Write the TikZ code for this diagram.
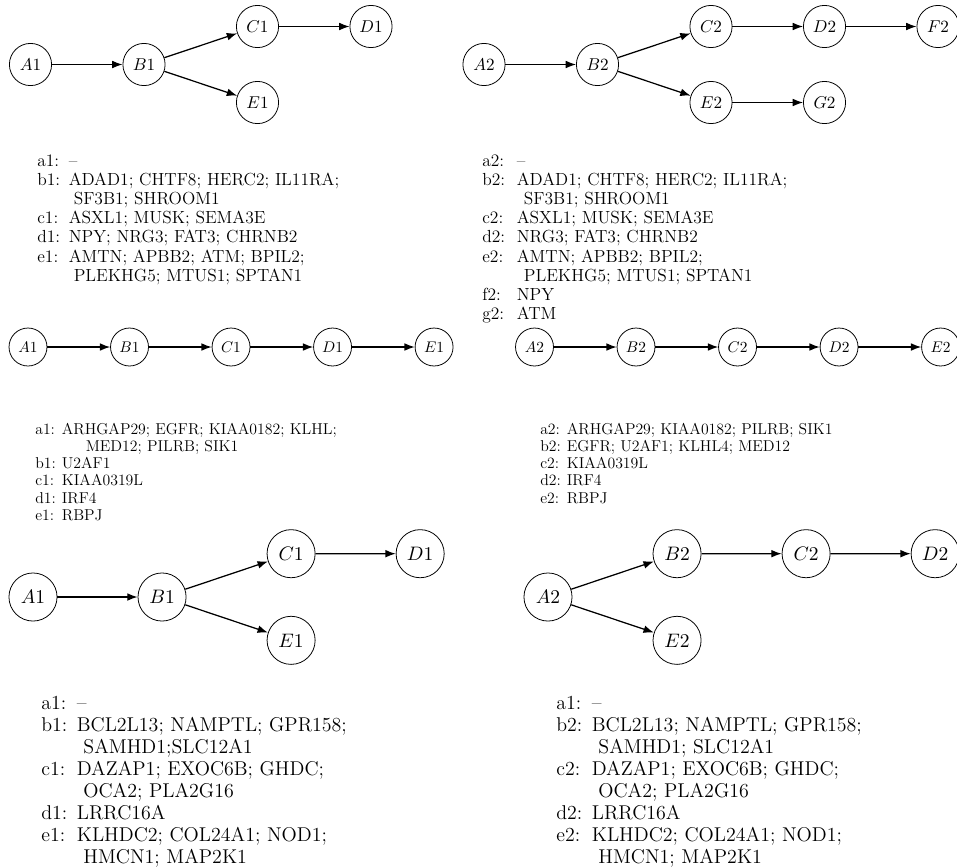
\documentclass[tikz,border=0pt]{standalone}
\usetikzlibrary{arrows.meta,positioning}
\tikzset{
  gene/.style={circle,draw,line width=0.5pt,minimum size=27pt,inner sep=0pt,font=\fontsize{11}{13}\selectfont},
  link/.style={-{Latex},thick},
  genes/.style={anchor=base west,inner sep=0pt,align=left,font=\fontsize{11.2}{12.3}\selectfont}
}
\begin{document}
\begin{tikzpicture}[x=0.64pt,y=-0.64pt]
  \useasboundingbox (0,0) rectangle (957,867);
  %% Top left: tree 1
  \begin{scope}[shift={(30.5,64.5)}]
    \node[gene] (tA1) at (0,0)       {$A1$};
    \node[gene] (tB1) at (113.5,0)   {$B1$};
    \node[gene] (tC1) at (227,-38)   {$C1$};
    \node[gene] (tD1) at (340.5,-38) {$D1$};
    \node[gene] (tE1) at (227,38)    {$E1$};
    \draw[link] (tA1) -- (tB1);
    \draw[link] (tB1) -- (tC1);
    \draw[link] (tC1) -- (tD1);
    \draw[link] (tB1) -- (tE1);
    \node[genes] (tlist1) at (6.5,101.5) {\begin{tabular}[t]{@{}l@{\hspace{5.5pt}}l@{}}
      a1: & --\\
      b1: & ADAD1; CHTF8; HERC2; IL11RA;\\
          & \hspace{3.2pt}SF3B1; SHROOM1\\
      c1: & ASXL1; MUSK; SEMA3E\\
      d1: & NPY; NRG3; FAT3; CHRNB2\\
      e1: & AMTN; APBB2; ATM; BPIL2;\\
          & \hspace{3.2pt}PLEKHG5; MTUS1; SPTAN1
    \end{tabular}};
  \end{scope}
  %% Top right: tree 2
  \begin{scope}[shift={(484,64.5)}]
    \node[gene] (tA2) at (0,0)       {$A2$};
    \node[gene] (tB2) at (113.5,0)   {$B2$};
    \node[gene] (tC2) at (227,-38)   {$C2$};
    \node[gene] (tD2) at (340.5,-38) {$D2$};
    \node[gene] (tF2) at (454,-38)   {$F2$};
    \node[gene] (tE2) at (227,38)    {$E2$};
    \node[gene] (tG2) at (340.5,38)  {$G2$};
    \draw[link] (tA2) -- (tB2);
    \draw[link] (tB2) -- (tC2);
    \draw[link] (tC2) -- (tD2);
    \draw[link] (tD2) -- (tF2);
    \draw[link] (tB2) -- (tE2);
    \draw[link] (tE2) -- (tG2);
    \node[genes] (tlist2) at (-2,101.5) {\begin{tabular}[t]{@{}l@{\hspace{7.5pt}}l@{}}
      a2: & --\\
      b2: & ADAD1; CHTF8; HERC2; IL11RA;\\
          & \hspace{4.5pt}SF3B1; SHROOM1\\
      c2: & ASXL1; MUSK; SEMA3E\\
      d2: & NRG3; FAT3; CHRNB2\\
      e2: & AMTN; APBB2; BPIL2;\\
          & \hspace{4.5pt}PLEKHG5; MTUS1; SPTAN1\\
      f2: & NPY\\
      g2: & ATM
    \end{tabular}};
  \end{scope}
  %% Middle left: chain 1
  \begin{scope}[shift={(28,347)},scale=0.9,transform shape]
    \node[gene] (mA1) at (0,0)     {$A1$};
    \node[gene] (mB1) at (112.8,0) {$B1$};
    \node[gene] (mC1) at (225.6,0) {$C1$};
    \node[gene] (mD1) at (338.4,0) {$D1$};
    \node[gene] (mE1) at (451.2,0) {$E1$};
    \draw[link] (mA1) -- (mB1);
    \draw[link] (mB1) -- (mC1);
    \draw[link] (mC1) -- (mD1);
    \draw[link] (mD1) -- (mE1);
    \node[genes] (mlist1) at (7.8,96.7) {\begin{tabular}[t]{@{}l@{\hspace{4.3pt}}l@{}}
      a1: & ARHGAP29; EGFR; KIAA0182; KLHL;\\
          & \hspace{17pt}MED12; PILRB; SIK1\\
      b1: & U2AF1\\
      c1: & KIAA0319L\\
      d1: & IRF4\\
      e1: & RBPJ
    \end{tabular}};
  \end{scope}
  %% Middle right: chain 2
  \begin{scope}[shift={(534.5,347)},scale=0.9,transform shape]
    \node[gene] (mA2) at (0,0)     {$A2$};
    \node[gene] (mB2) at (112.8,0) {$B2$};
    \node[gene] (mC2) at (225.6,0) {$C2$};
    \node[gene] (mD2) at (338.4,0) {$D2$};
    \node[gene] (mE2) at (451.2,0) {$E2$};
    \draw[link] (mA2) -- (mB2);
    \draw[link] (mB2) -- (mC2);
    \draw[link] (mC2) -- (mD2);
    \draw[link] (mD2) -- (mE2);
    \node[genes] (mlist2) at (6.1,96.7) {\begin{tabular}[t]{@{}l@{\hspace{4.3pt}}l@{}}
      a2: & ARHGAP29; KIAA0182; PILRB; SIK1\\
      b2: & EGFR; U2AF1; KLHL4; MED12\\
      c2: & KIAA0319L\\
      d2: & IRF4\\
      e2: & RBPJ
    \end{tabular}};
  \end{scope}
  %% Bottom left: tree 3
  \begin{scope}[shift={(33,597)},scale=1.14,transform shape]
    \node[gene] (bA1) at (0,0)       {$A1$};
    \node[gene] (bB1) at (113.2,0)   {$B1$};
    \node[gene] (bC1) at (226.4,-38) {$C1$};
    \node[gene] (bD1) at (339.6,-38) {$D1$};
    \node[gene] (bE1) at (226.4,38)  {$E1$};
    \draw[link] (bA1) -- (bB1);
    \draw[link] (bB1) -- (bC1);
    \draw[link] (bC1) -- (bD1);
    \draw[link] (bB1) -- (bE1);
    \node[genes] (blist1) at (7,99) {\begin{tabular}[t]{@{}l@{\hspace{5.3pt}}l@{}}
      a1: & --\\
      b1: & BCL2L13; NAMPTL; GPR158;\\
          & \hspace{3.7pt}SAMHD1;SLC12A1\\
      c1: & DAZAP1; EXOC6B; GHDC;\\
          & \hspace{3.7pt}OCA2; PLA2G16\\
      d1: & LRRC16A\\
      e1: & KLHDC2; COL24A1; NOD1;\\
          & \hspace{3.7pt}HMCN1; MAP2K1
    \end{tabular}};
  \end{scope}
  %% Bottom right: tree 4
  \begin{scope}[shift={(548,597)},scale=1.14,transform shape]
    \node[gene] (bA2) at (0,0)        {$A2$};
    \node[gene] (bB2) at (113.2,-38)  {$B2$};
    \node[gene] (bC2) at (226.4,-38)  {$C2$};
    \node[gene] (bD2) at (339.6,-38)  {$D2$};
    \node[gene] (bE2) at (113.2,38)   {$E2$};
    \draw[link] (bA2) -- (bB2);
    \draw[link] (bB2) -- (bC2);
    \draw[link] (bC2) -- (bD2);
    \draw[link] (bA2) -- (bE2);
    \node[genes] (blist2) at (7,99) {\begin{tabular}[t]{@{}l@{\hspace{5.3pt}}l@{}}
      a1: & --\\
      b2: & BCL2L13; NAMPTL; GPR158;\\
          & \hspace{3.7pt}SAMHD1; SLC12A1\\
      c2: & DAZAP1; EXOC6B; GHDC;\\
          & \hspace{3.7pt}OCA2; PLA2G16\\
      d2: & LRRC16A\\
      e2: & KLHDC2; COL24A1; NOD1;\\
          & \hspace{3.7pt}HMCN1; MAP2K1
    \end{tabular}};
  \end{scope}
\end{tikzpicture}
\end{document}
